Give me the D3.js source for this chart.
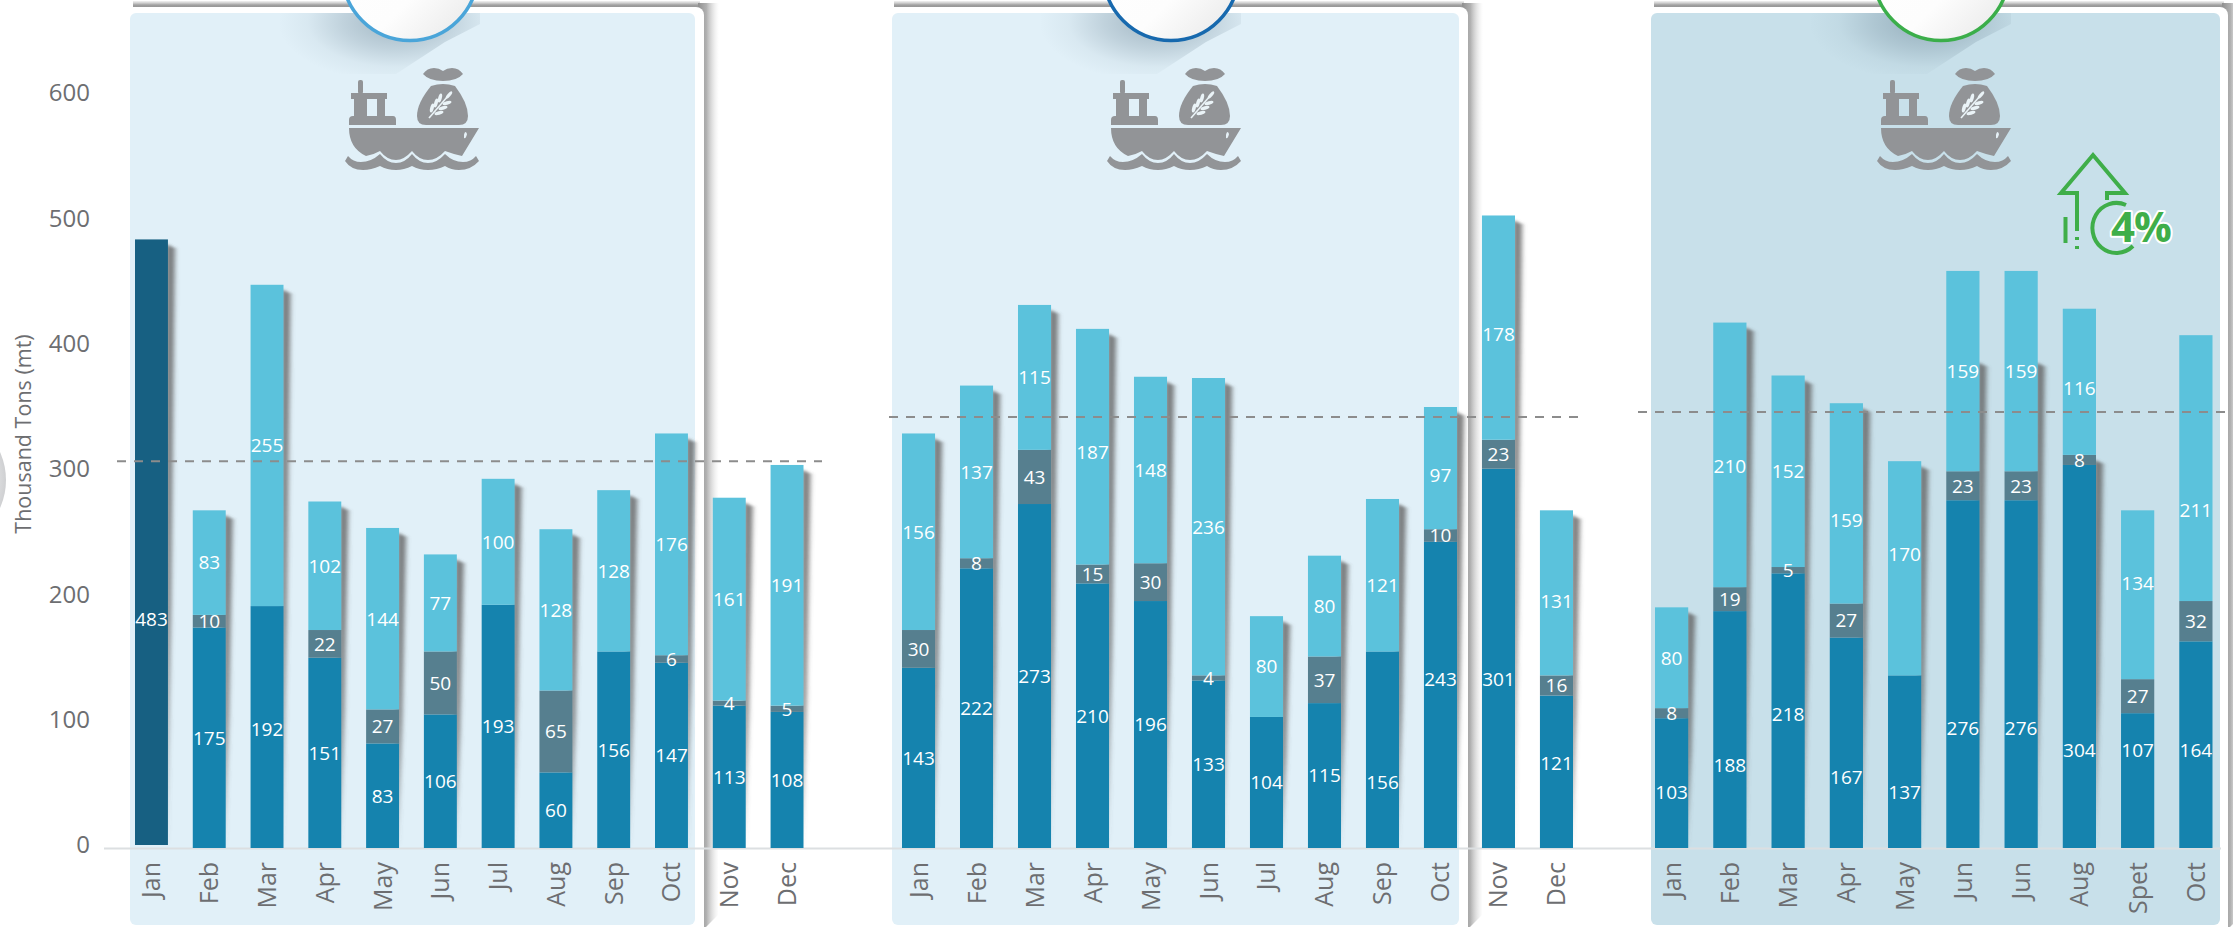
<!DOCTYPE html>
<html><head><meta charset="utf-8">
<script src="https://cdnjs.cloudflare.com/ajax/libs/d3/7.8.5/d3.min.js"></script>
<style>html,body{margin:0;padding:0;background:#fff}svg{display:block}text{font-family:"Open Sans",sans-serif}</style>
</head><body><div id="chart"></div>
<script>
const monthsA = ["Jan","Feb","Mar","Apr","May","Jun","Jul","Aug","Sep","Oct","Nov","Dec"];
const monthsC = ["Jan","Feb","Mar","Apr","May","Jun","Jun","Aug","Spet","Oct"];
const lowA  = [483,175,192,151,83,106,193,60,156,147,113,108];
const midA  = [0,10,0,22,27,50,0,65,0,6,4,5];
const highA = [0,83,255,102,144,77,100,128,128,176,161,191];
const lowB  = [143,222,273,210,196,133,104,115,156,243,301,121];
const midB  = [30,8,43,15,30,4,0,37,0,10,23,16];
const highB = [156,137,115,187,148,236,80,80,121,97,178,131];
const lowC  = [103,188,218,167,137,276,276,304,107,164];
const midC  = [8,19,5,27,0,23,23,8,27,32];
const highC = [80,210,152,159,170,159,159,116,134,211];
const averages = [307,342,346];
const yTicks = [0,100,200,300,400,500,600];
const axisTitle = "Thousand Tons (mt)";
const badge = "4%";
// Value on the y scale at which a label sits when the source does not centre it in its segment.
const lowLabelA  = [182,null,94];
const lowLabelB  = [null,null,null,null,null,null,null,null,52,134,134,67];
const highLabelB = [null,null,null,314,null,null,null,null,209,296,408,196];
const lowLabelC  = [44,66,106,56,44,95,95,78,78,78];
const highLabelC = [null,303,null,260,233,null,null,365,210,268];
// Value at which the drop shadow starts in the third panel (0: no shadow).
const shadowFromC = [191,417,375,353,307,389,389,312,0,0];

const W=2233,H=927;
const colors={low:"#1583ae",mid:"#567f8f",high:"#5bc2dc",dark:"#176082"};
const y=d3.scaleLinear().domain([0,600]).range([848,92]);
const yLabels=d3.scaleLinear().domain([0,600]).range([845,93]);

const panels=[
 {months:monthsA,low:lowA,mid:midA,high:highA,avg:averages[0],lowAt:lowLabelA,highAt:[],range:[135,803.5],card:[123,704],inner:[130,695],fill:"#e1f0f8",ring:"#4aa5d9",cx:410,icon:349,dash:[117,822]},
 {months:monthsA,low:lowB,mid:midB,high:highB,avg:averages[1],lowAt:lowLabelB,highAt:highLabelB,range:[902,1573],card:[884,1468],inner:[892,1459],fill:"#e1f0f8",ring:"#1769ae",cx:1171,icon:1111,dash:[889,1582]},
 {months:monthsC,low:lowC,mid:midC,high:highC,avg:averages[2],lowAt:lowLabelC,highAt:highLabelC,shadowFrom:shadowFromC,range:[1655,2212.5],card:[1644,2228],inner:[1651,2220],fill:"#c8e0ea",ring:"#3bae4a",cx:1941,icon:1881,dash:[1638,2233]}
];

const svg=d3.select("#chart").append("svg").attr("width",W).attr("height",H).attr("viewBox",[0,0,W,H]);
const defs=svg.append("defs");
function grad(id,x2,y2,stops){
  const g=defs.append("linearGradient").attr("id",id).attr("x1",0).attr("y1",0).attr("x2",x2).attr("y2",y2);
  stops.forEach(s=>g.append("stop").attr("offset",s[0]).attr("stop-color",s[1]).attr("stop-opacity",s[2]));
}
grad("cardRight",1,0,[[0,"#8f8f8f",1],[.4,"#a8a8a8",.9],[1,"#ddd",0]]);
grad("cardTop",0,1,[[0,"#bbb",.2],[.5,"#a0a0a0",1],[1,"#8f8f8f",1]]);
grad("disc",1,1,[[0,"#fff",1],[.6,"#fdfdfd",1],[1,"#e6e6e6",1]]);
const rg=defs.append("radialGradient").attr("id","discShadow");
rg.append("stop").attr("offset",0).attr("stop-color","#6d8696").attr("stop-opacity",.55);
rg.append("stop").attr("offset",.45).attr("stop-color","#6d8696").attr("stop-opacity",.28);
rg.append("stop").attr("offset",.75).attr("stop-color","#6d8696").attr("stop-opacity",.07);
rg.append("stop").attr("offset",1).attr("stop-color","#6d8696").attr("stop-opacity",0);
const rg2=defs.append("radialGradient").attr("id","sideDisc");
rg2.append("stop").attr("offset",.7).attr("stop-color","#eeeeef");
rg2.append("stop").attr("offset",1).attr("stop-color","#cfd0d2");
defs.append("filter").attr("id","soft").attr("x","-100%").attr("width","300%").attr("y","-5%").attr("height","110%")
  .append("feGaussianBlur").attr("stdDeviation","2.4 1");

svg.append("circle").attr("cx",-62).attr("cy",480).attr("r",68).attr("fill","url(#sideDisc)");

const gBack=svg.append("g"), gMarks=svg.append("g"), gTop=svg.append("g");

function drawShip(g,x0){
  const s=g.append("g").attr("transform",`translate(${x0},68)`).attr("fill","#929497");
  s.append("rect").attr("x",9).attr("y",12).attr("width",5).attr("height",14).attr("rx",2);
  s.append("rect").attr("x",2).attr("y",25).attr("width",36).attr("height",6);
  s.append("rect").attr("x",5).attr("y",30).attr("width",13).attr("height",19);
  s.append("rect").attr("x",28).attr("y",30).attr("width",8).attr("height",19);
  s.append("path").attr("d","M0 52Q0 48 4 48H44Q47 48 47 52V57H0Z");
  s.append("path").attr("d","M0 60H130L113 88Q104 86 96 83Q88 92 79 92Q70 92 63 83Q55 92 47 92Q38 92 31 83Q24 87 17 88Q0 80 0 60Z");
  s.append("path").attr("d","M-4 93L-1 88Q4 94 12 94Q22 94 31 86Q38 95 47 95Q56 95 63 86Q70 95 79 95Q88 95 96 86Q104 94 114 94Q122 94 127 88L130 93Q122 102 110 102Q102 102 96 98Q88 102 79 102Q70 102 63 98Q55 102 47 102Q38 102 31 98Q22 102 14 102Q2 102 -4 93Z");
  s.append("path").attr("d","M82 18Q94 14 106 18Q119 35 119 48Q119 57 110 57H77Q68 57 68 48Q68 35 82 18Z");
  s.append("path").attr("d","M74 6Q78 0 85 0Q90 0 94 3Q98 0 103 0Q110 0 114 6Q108 13 94 13Q80 13 74 6Z");
  s.append("path").attr("d","M115 66.5Q116.5 62 118 66Q117 71 115 70Z").attr("fill","#e6f1f7");
  const w=s.append("g").attr("fill","#eaf3f7");
  w.append("path").attr("d","M80 50L99 28").attr("stroke","#eaf3f7").attr("stroke-width",1.6).attr("fill","none");
  [[86,43],[90,38],[94,33]].forEach(p=>{
    w.append("ellipse").attr("cx",p[0]-3).attr("cy",p[1]-3).attr("rx",4.6).attr("ry",1.8).attr("transform",`rotate(-75 ${p[0]-3} ${p[1]-3})`);
    w.append("ellipse").attr("cx",p[0]+4).attr("cy",p[1]+2).attr("rx",4.6).attr("ry",1.8).attr("transform",`rotate(-15 ${p[0]+4} ${p[1]+2})`);
  });
  w.append("ellipse").attr("cx",100).attr("cy",27).attr("rx",4.5).attr("ry",1.7).attr("transform","rotate(-50 100 27)");
}

panels.forEach((p,pi)=>{
  const rows=p.low.map((v,i)=>({i,low:v,mid:p.mid[i],high:p.high[i]}));
  const stack=d3.stack().keys(["low","mid","high"])(rows);
  const x=d3.scaleBand().domain(d3.range(p.months.length)).range(p.range).paddingInner(.43).paddingOuter(0);
  const bw=x.bandwidth();

  // card
  gBack.append("rect").attr("x",p.card[0]+10).attr("y",1).attr("width",p.card[1]-p.card[0]-14).attr("height",8).attr("fill","url(#cardTop)");
  gBack.append("path").attr("d",`M${p.card[1]-6} 3H${p.card[1]+15}L${p.card[1]+14} 915L${p.card[1]+2} 927H${p.card[1]-6}Z`).attr("fill","url(#cardRight)");
  gBack.append("rect").attr("x",p.card[0]).attr("y",7).attr("width",p.card[1]-p.card[0]).attr("height",H).attr("rx",8).attr("fill","#fff");
  gBack.append("rect").attr("x",p.inner[0]).attr("y",13).attr("width",p.inner[1]-p.inner[0]).attr("height",912).attr("rx",6).attr("fill",p.fill);

  // disc + shadow
  const clipId="discClip"+pi;
  defs.append("clipPath").attr("id",clipId).append("path")
    .attr("d",`M${p.cx-130} 13H${p.cx+70}V24L${p.cx+35} 42L${p.cx-14} 74H${p.cx-130}Z`);
  gBack.append("ellipse").attr("cx",p.cx-14).attr("cy",22).attr("rx",118).attr("ry",60).attr("fill","url(#discShadow)").attr("clip-path",`url(#${clipId})`);
  gBack.append("circle").attr("cx",p.cx).attr("cy",-27).attr("r",67.5).attr("fill","url(#disc)").attr("stroke",p.ring).attr("stroke-width",3.5);

  drawShip(gBack,p.icon);

  // bar shadows
  const shadowRows=p.shadowFrom?rows.filter(d=>p.shadowFrom[d.i]>0):rows;
  gMarks.append("g").selectAll("path").data(shadowRows).join("path")
    .attr("fill","#5f5f5f").attr("fill-opacity",.8).attr("filter","url(#soft)")
    .attr("d",d=>{
      const r=x(d.i)+bw-2, bot=y(0);
      const top=p.shadowFrom?y(p.shadowFrom[d.i]):y(d.low+d.mid+d.high);
      const mid=top+(bot-top)*.6;
      return `M${r} ${top+4}L${r+9} ${top+9}L${r+5} ${mid}L${r} ${bot}Z`;
    });

  // stacked bars
  const isDark=d=>pi===0&&d.data.i===0;
  stack.forEach(layer=>{
    gMarks.append("g").selectAll("rect").data(layer.filter(d=>d[1]>d[0])).join("rect")
      .attr("x",d=>x(d.data.i)).attr("width",bw)
      .attr("y",d=>y(d[1]))
      .attr("height",d=>y(d[0])-y(d[1])-(isDark(d)?3:0))
      .attr("fill",d=>isDark(d)?colors.dark:colors[layer.key]);
  });

  // average line
  gTop.append("line").attr("x1",p.dash[0]).attr("x2",p.dash[1]).attr("y1",y(p.avg)).attr("y2",y(p.avg))
    .attr("stroke","#8c8c8c").attr("stroke-width",2).attr("stroke-dasharray","9 8");

  // value labels
  stack.forEach(layer=>{
    const at=layer.key==="low"?p.lowAt:layer.key==="high"?p.highAt:[];
    gTop.append("g").selectAll("text").data(layer.filter(d=>d[1]>d[0])).join("text")
      .attr("x",d=>x(d.data.i)+bw/2)
      .attr("y",d=>y(at[d.data.i]!=null?at[d.data.i]:(d[0]+d[1])/2))
      .attr("dy","0.36em").attr("text-anchor","middle")
      .attr("fill","#fff").attr("font-size",19)
      .text(d=>d[1]-d[0]);
  });

  // month axis
  const ax=gTop.append("g").attr("transform","translate(0,862)")
    .call(d3.axisBottom(x).tickSize(0).tickFormat(i=>p.months[i]));
  ax.select(".domain").remove();
  ax.selectAll("text").attr("transform","rotate(-90)").attr("x",0).attr("y",0).attr("dy","0.36em")
    .attr("text-anchor","end").attr("fill","#6d6e71").attr("font-size",25)
    .attr("font-family",'"Open Sans",sans-serif');
});

gBack.append("line").attr("x1",104).attr("x2",2221).attr("y1",848.5).attr("y2",848.5).attr("stroke","#dcdfe1").attr("stroke-width",2);

const ay=gTop.append("g").attr("transform","translate(90,0)")
  .call(d3.axisLeft(yLabels).tickValues(yTicks).tickSize(0).tickPadding(0).tickFormat(d3.format("d")));
ay.select(".domain").remove();
ay.selectAll("text").attr("fill","#6d6e71").attr("font-size",24).attr("font-family",'"Open Sans",sans-serif');
gTop.append("text").attr("transform","translate(23,434) rotate(-90)").attr("dy","0.36em").attr("text-anchor","middle")
  .attr("fill","#6d6e71").attr("font-size",21.5).text(axisTitle);

const b=gTop.append("g").attr("fill","none").attr("stroke","#3fae49").attr("stroke-width",4);
b.append("path").attr("d","M2077 231V193H2061L2093 155L2125 193H2107V200");
b.append("path").attr("d","M2077 237V240M2077 246V249M2065.5 217V243");
b.append("path").attr("d","M2126 205A24 25 0 1 0 2133 246");
gTop.append("text").attr("x",2111).attr("y",242).attr("font-size",42).attr("font-weight",700).attr("letter-spacing",-1)
  .attr("fill","#3fae49").attr("stroke","#fff").attr("stroke-width",4).attr("paint-order","stroke").attr("stroke-linejoin","round").text(badge);
</script></body></html>
